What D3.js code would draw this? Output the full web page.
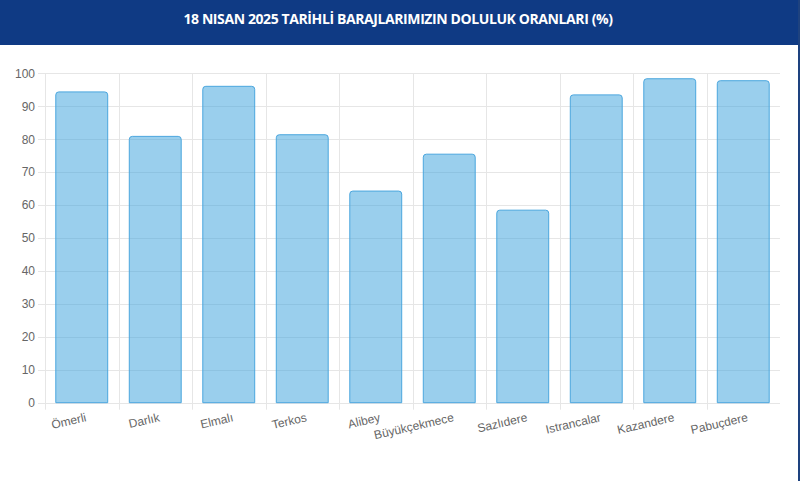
<!DOCTYPE html>
<html>
<head>
<meta charset="utf-8" />
<title>Baraj Doluluk Oranları</title>
<style>
  body { margin: 0; background: #fff; }
  svg { display: block; }
</style>
</head>
<body>
<script src="https://d3js.org/d3.v7.min.js"></script>
<script>
  var baraj = ["Ömerli", "Darlık", "Elmalı", "Terkos", "Alibey", "Büyükçekmece", "Sazlıdere", "Istrancalar", "Kazandere", "Pabuçdere"];
  var doluluk = [94.5, 81.0, 96.2, 81.5, 64.4, 75.6, 58.6, 93.6, 98.5, 97.9];
  var yTicks = [0, 10, 20, 30, 40, 50, 60, 70, 80, 90, 100];
  var baslik = "18 NISAN 2025 TARİHLİ BARAJLARIMIZIN DOLULUK ORANLARI (%)";

  var width = 800, height = 481;
  var margin = {left: 45, right: 20, top: 73.3, bottom: 78.3};

  var svg = d3.select("body").append("svg")
      .attr("width", width)
      .attr("height", height);

  // header band
  svg.append("rect")
     .attr("x", 0).attr("y", 0)
     .attr("width", width).attr("height", 45)
     .attr("fill", "#0f3a84");

  svg.append("rect")
     .attr("x", 798).attr("y", 0)
     .attr("width", 2).attr("height", height)
     .attr("fill", "#1e427f");

  svg.append("text")
     .attr("x", 398)
     .attr("y", 24)
     .attr("text-anchor", "middle")
     .attr("fill", "#fff")
     .style("font-family", "'Open Sans', sans-serif")
     .style("font-weight", "700")
     .style("font-size", "14px")
     .style("letter-spacing", "-0.4px")
     .text(baslik);

  var x = d3.scaleBand()
      .domain(baraj)
      .range([margin.left, width - margin.right])
      .paddingInner(0).paddingOuter(0);

  var y = d3.scaleLinear()
      .domain([0, 100])
      .range([height - margin.bottom, margin.top]);

  var grid = svg.append("g").attr("stroke", "#e6e6e6").attr("stroke-width", 1);

  grid.selectAll(".h")
      .data(yTicks)
      .enter().append("line")
      .attr("x1", margin.left - 7)
      .attr("x2", width - margin.right)
      .attr("y1", d => Math.round(y(d)) + 0.5)
      .attr("y2", d => Math.round(y(d)) + 0.5);

  grid.selectAll(".v")
      .data(baraj)
      .enter().append("line")
      .attr("x1", d => Math.round(x(d)) + 0.5)
      .attr("x2", d => Math.round(x(d)) + 0.5)
      .attr("y1", margin.top)
      .attr("y2", height - margin.bottom + 7);

  // y axis labels
  var yAxis = d3.axisLeft(y).tickValues(yTicks).tickSize(0).tickPadding(10);
  var yg = svg.append("g")
      .attr("transform", "translate(" + margin.left + ",0)")
      .call(yAxis);
  yg.select(".domain").remove();
  yg.selectAll("text")
    .attr("fill", "#666")
    .style("font-family", "'Liberation Sans', Arial, sans-serif")
    .style("font-size", "12px");

  // bars
  var bw = x.bandwidth() * 0.72;
  var r = 3;
  function barPath(d, i) {
    var cx = x(baraj[i]) + x.bandwidth() / 2;
    var x0 = cx - bw / 2 + 0.5, x1 = cx + bw / 2 - 0.5;
    var y0 = y(0), y1 = y(d) + 0.5;
    return "M" + x0 + "," + y0 +
           "V" + (y1 + r) +
           "Q" + x0 + "," + y1 + " " + (x0 + r) + "," + y1 +
           "H" + (x1 - r) +
           "Q" + x1 + "," + y1 + " " + x1 + "," + (y1 + r) +
           "V" + y0 + "Z";
  }

  svg.append("g")
     .selectAll("path")
     .data(doluluk)
     .enter().append("path")
     .attr("d", barPath)
     .attr("fill", "rgba(54,160,220,0.5)")
     .attr("stroke", "#4aa6de")
     .attr("stroke-width", 1);

  // x labels, rotated
  svg.append("g")
     .selectAll("text")
     .data(baraj)
     .enter().append("text")
     .attr("transform", d => "translate(" + (x(d) + x.bandwidth() / 2 + 3) + "," + (height - margin.bottom + 9) + ") rotate(-13)")
     .attr("dy", "0.8em")
     .attr("text-anchor", "end")
     .attr("fill", "#666")
     .style("font-family", "'Liberation Sans', Arial, sans-serif")
     .style("font-size", "12px")
     .text(d => d);
</script>
</body>
</html>
